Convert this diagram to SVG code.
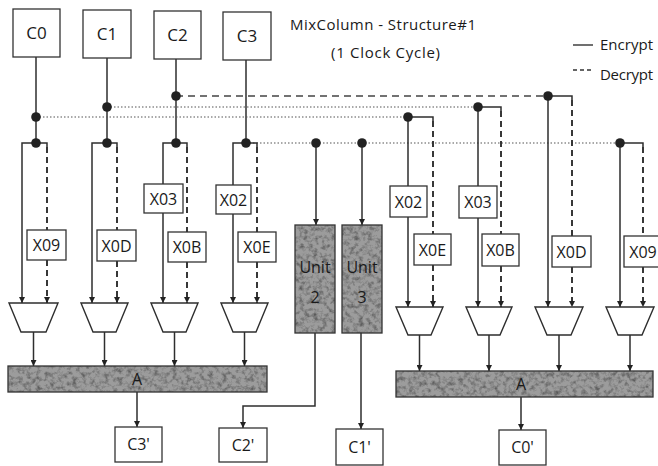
<svg xmlns="http://www.w3.org/2000/svg" width="658" height="466" viewBox="0 0 658 466">
<defs>
<style>
.box{fill:#fff;stroke:#333;stroke-width:1.3}
.t{font-family:"Open Sans","Noto Sans",sans-serif;font-size:16px;fill:#1a1a1a;text-anchor:middle}
.tb{font-family:"Open Sans","Noto Sans",sans-serif;font-size:17px;fill:#1a1a1a;text-anchor:middle}
.ti{font-family:"Open Sans","Noto Sans",sans-serif;font-size:15px;fill:#1a1a1a}
.sol{fill:none;stroke:#2e2e2e;stroke-width:1.5}
.dsh{fill:none;stroke:#2e2e2e;stroke-width:1.9;stroke-dasharray:6 4}
.dshh{fill:none;stroke:#444;stroke-width:1.5;stroke-dasharray:7 5}
.dot{fill:none;stroke:#555;stroke-width:1.2;stroke-dasharray:1.5 2}
.jn{fill:#222}
.mux{fill:#fff;stroke:#2e2e2e;stroke-width:1.4}
.gray{fill:#9c9c9c}
.edge{fill:none;stroke:#333;stroke-width:1.3}
.arr{marker-end:url(#ah)}
</style>
<marker id="ah" viewBox="0 0 6 6" refX="6" refY="3" markerWidth="6" markerHeight="6" markerUnits="userSpaceOnUse" orient="auto">
<path d="M0,0 L6,3 L0,6 z" fill="#222"/>
</marker>
<filter id="grain" x="0" y="0" width="100%" height="100%" color-interpolation-filters="sRGB">
<feTurbulence type="fractalNoise" baseFrequency="0.22" numOctaves="3" seed="7" result="n"/>
<feColorMatrix in="n" type="matrix" values="0 0 0 0 0.35  0 0 0 0 0.35  0 0 0 0 0.35  2.2 0 0 0 -0.95" result="spots"/>
<feComposite in="spots" in2="SourceGraphic" operator="atop"/>
</filter>
</defs>
<rect width="658" height="466" fill="#fff"/>

<g id="title">
<text class="ti" x="290" y="30" textLength="186" lengthAdjust="spacing">MixColumn - Structure#1</text>
<text class="ti" x="331" y="58" textLength="109" lengthAdjust="spacing">(1 Clock Cycle)</text>
</g>
<g id="legend">
<line x1="573" y1="45" x2="593" y2="45" stroke="#333" stroke-width="1.4"/>
<text class="ti" x="600" y="50" textLength="53" lengthAdjust="spacing">Encrypt</text>
<line x1="573" y1="70" x2="593" y2="70" stroke="#333" stroke-width="1.4" stroke-dasharray="4 3"/>
<text class="ti" x="600" y="80" textLength="53" lengthAdjust="spacing">Decrypt</text>
</g>

<g id="connectors">
<path class="sol" d="M36,57 V143"/>
<path class="sol" d="M107,58 V143"/>
<path class="sol" d="M176,59 V143"/>
<path class="sol" d="M246,60 V143"/>
<path class="dshh" d="M176,96 H548"/>
<path class="dot" d="M107,107 H478"/>
<path class="dot" d="M36,117 H408"/>
<path class="dot" d="M246,143 H620"/>

<path class="sol arr" d="M47,147 V143 H22 V303"/>
<path class="dsh" d="M47,147 V230"/>
<path class="dsh arr" d="M47,260 V303"/>
<path class="sol arr" d="M117,147 V143 H92 V303"/>
<path class="dsh" d="M117,147 V230"/>
<path class="dsh arr" d="M117,261 V303"/>
<path class="sol" d="M187,147 V143 H163 V184"/>
<path class="sol arr" d="M163,213 V303"/>
<path class="dsh" d="M187,147 V232"/>
<path class="dsh arr" d="M187,262 V303"/>
<path class="sol" d="M257,147 V143 H233 V185"/>
<path class="sol arr" d="M233,214 V303"/>
<path class="dsh" d="M257,147 V232"/>
<path class="dsh arr" d="M257,262 V303"/>

<path class="sol" d="M433,121 V117 H408 V186"/>
<path class="sol arr" d="M408,217 V307"/>
<path class="dsh" d="M433,121 V234"/>
<path class="dsh arr" d="M433,265 V307"/>
<path class="sol" d="M501,111 V107 H478 V186"/>
<path class="sol arr" d="M478,218 V307"/>
<path class="dsh" d="M501,111 V234"/>
<path class="dsh arr" d="M501,266 V307"/>
<path class="sol arr" d="M572,100 V96 H548 V307"/>
<path class="dsh" d="M572,100 V236"/>
<path class="dsh arr" d="M572,267 V307"/>
<path class="sol arr" d="M643,147 V143 H620 V307"/>
<path class="dsh" d="M643,147 V236"/>
<path class="dsh arr" d="M643,267 V307"/>

<path class="sol arr" d="M316,143 V225"/>
<path class="sol arr" d="M362,143 V225"/>
<path class="sol arr" d="M315,333 V406 H243 V428"/>
<path class="sol arr" d="M361,333 V429"/>

<path class="sol arr" d="M33.5,332 V366"/>
<path class="sol arr" d="M104.5,332 V366"/>
<path class="sol arr" d="M174.5,332 V366"/>
<path class="sol arr" d="M244.5,332 V366"/>
<path class="sol arr" d="M419.5,335 V371"/>
<path class="sol arr" d="M489,335 V371"/>
<path class="sol arr" d="M559,335 V371"/>
<path class="sol arr" d="M630,335 V371"/>
<path class="sol arr" d="M137,392 V427"/>
<path class="sol arr" d="M521,397 V430"/>

<circle class="jn" cx="176" cy="96" r="4.8"/>
<circle class="jn" cx="107" cy="107" r="4.8"/>
<circle class="jn" cx="36" cy="117" r="4.8"/>
<circle class="jn" cx="36" cy="143" r="4.8"/>
<circle class="jn" cx="107" cy="143" r="4.8"/>
<circle class="jn" cx="176" cy="143" r="4.8"/>
<circle class="jn" cx="246" cy="143" r="4.8"/>
<circle class="jn" cx="316" cy="143" r="4.8"/>
<circle class="jn" cx="362" cy="143" r="4.8"/>
<circle class="jn" cx="408" cy="117" r="4.8"/>
<circle class="jn" cx="478" cy="107" r="4.8"/>
<circle class="jn" cx="548" cy="96" r="4.8"/>
<circle class="jn" cx="620" cy="143" r="4.8"/>
</g>

<g id="C0"><rect class="box" x="13" y="9" width="47" height="48"/><text class="tb" x="36.5" y="39">C0</text></g>
<g id="C1"><rect class="box" x="83" y="10" width="48" height="48"/><text class="tb" x="107" y="40">C1</text></g>
<g id="C2"><rect class="box" x="154" y="11" width="47" height="48"/><text class="tb" x="177.5" y="41">C2</text></g>
<g id="C3"><rect class="box" x="223" y="12" width="48" height="48"/><text class="tb" x="247" y="42">C3</text></g>

<g id="L_X09"><rect class="box" x="27" y="230" width="39" height="30"/><text class="t" x="46.5" y="251">X09</text></g>
<g id="L_X0D"><rect class="box" x="97" y="230" width="39" height="31"/><text class="t" x="116.5" y="251.5">X0D</text></g>
<g id="L_X03"><rect class="box" x="144" y="184" width="39" height="29"/><text class="t" x="163.5" y="204.5">X03</text></g>
<g id="L_X0B"><rect class="box" x="168" y="232" width="38" height="30"/><text class="t" x="187" y="253">X0B</text></g>
<g id="L_X02"><rect class="box" x="216" y="185" width="35" height="29"/><text class="t" x="233.5" y="205.5">X02</text></g>
<g id="L_X0E"><rect class="box" x="238" y="232" width="38" height="30"/><text class="t" x="257" y="253">X0E</text></g>

<g id="R_X02"><rect class="box" x="390" y="186" width="37" height="31"/><text class="t" x="408.5" y="207.5">X02</text></g>
<g id="R_X0E"><rect class="box" x="414" y="234" width="37" height="31"/><text class="t" x="432.5" y="255.5">X0E</text></g>
<g id="R_X03"><rect class="box" x="459" y="186" width="38" height="32"/><text class="t" x="478" y="208">X03</text></g>
<g id="R_X0B"><rect class="box" x="482" y="234" width="37" height="32"/><text class="t" x="500.5" y="256">X0B</text></g>
<g id="R_X0D"><rect class="box" x="552" y="236" width="39" height="31"/><text class="t" x="571.5" y="257.5">X0D</text></g>
<g id="R_X09"><rect class="box" x="624" y="236" width="38" height="31"/><text class="t" x="643" y="257.5">X09</text></g>

<g id="L_mux0"><polygon class="mux" points="9,303 58,303 46,332 21,332"/></g>
<g id="L_mux1"><polygon class="mux" points="81,303 128,303 116,332 93,332"/></g>
<g id="L_mux2"><polygon class="mux" points="151,303 198,303 186,332 163,332"/></g>
<g id="L_mux3"><polygon class="mux" points="221,303 268,303 256,332 233,332"/></g>
<g id="R_mux0"><polygon class="mux" points="396,307 443,307 431,335 408,335"/></g>
<g id="R_mux1"><polygon class="mux" points="466,307 512,307 500,335 478,335"/></g>
<g id="R_mux2"><polygon class="mux" points="535,307 583,307 571,335 547,335"/></g>
<g id="R_mux3"><polygon class="mux" points="606,307 654,307 642,335 618,335"/></g>

<g id="Unit2"><rect class="gray" x="295" y="225" width="40" height="108" filter="url(#grain)"/><rect class="edge" x="295" y="225" width="40" height="108"/><text class="t" x="315" y="273">Unit</text><text class="t" x="315" y="303">2</text></g>
<g id="Unit3"><rect class="gray" x="342" y="225" width="40" height="108" filter="url(#grain)"/><rect class="edge" x="342" y="225" width="40" height="108"/><text class="t" x="362" y="273">Unit</text><text class="t" x="362" y="303">3</text></g>

<g id="A_left"><rect class="gray" x="8" y="366" width="259" height="26" filter="url(#grain)"/><rect class="edge" x="8" y="366" width="259" height="26"/><text class="t" x="137" y="385">A</text></g>
<g id="A_right"><rect class="gray" x="396" y="371" width="257" height="26" filter="url(#grain)"/><rect class="edge" x="396" y="371" width="257" height="26"/><text class="t" x="521" y="390">A</text></g>

<g id="C3p"><rect class="box" x="115" y="427" width="47" height="35"/><text class="t" x="138.5" y="450">C3'</text></g>
<g id="C2p"><rect class="box" x="219" y="428" width="48" height="34"/><text class="t" x="243" y="451">C2'</text></g>
<g id="C1p"><rect class="box" x="336" y="429" width="47" height="36"/><text class="t" x="359.5" y="453">C1'</text></g>
<g id="C0p"><rect class="box" x="499" y="430" width="47" height="35"/><text class="t" x="522.5" y="453">C0'</text></g>
</svg>
